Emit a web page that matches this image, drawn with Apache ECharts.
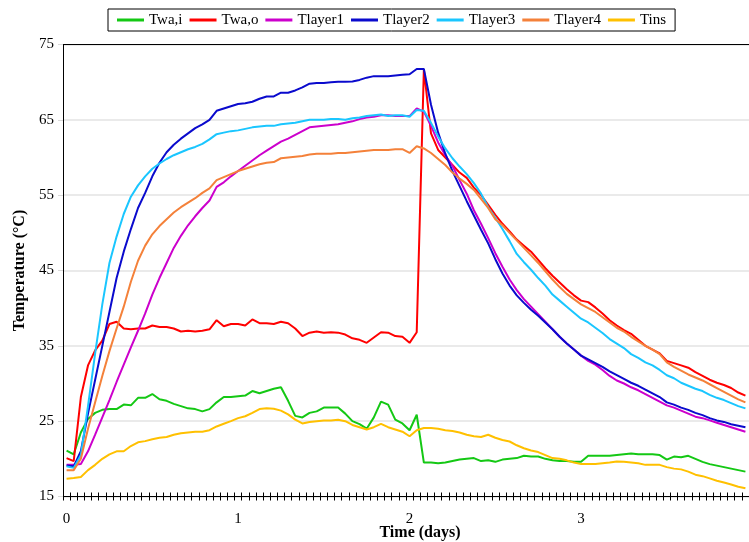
<!DOCTYPE html>
<html>
<head>
<meta charset="utf-8">
<script src="https://cdn.jsdelivr.net/npm/echarts@6/dist/echarts.min.js"></script>
<style>
html,body{margin:0;padding:0;background:#fff;}
#c{width:749px;height:542px;}
</style>
</head>
<body>
<div id="c"></div>
<script>
// Hourly samples, hour 0 .. 95 (category axis)
var hours = [];
for (var i = 0; i < 96; i++) hours.push(i);
var dayTicks = ['0', '1', '2', '3'];

var seriesNames = ['Twa,i', 'Twa,o', 'Tlayer1', 'Tlayer2', 'Tlayer3', 'Tlayer4', 'Tins'];

var twai = [21.1,20.6,23.5,25.3,26.1,26.5,26.6,26.6,27.2,27.1,
 28.1,28.1,28.6,27.9,27.7,27.3,27.0,26.7,26.6,26.3,
 26.6,27.5,28.2,28.2,28.3,28.4,29.0,28.7,29.0,29.3,
 29.5,27.7,25.7,25.5,26.1,26.3,26.8,26.8,26.8,26.0,
 25.0,24.6,24.0,25.5,27.6,27.2,25.2,24.7,23.8,25.85,
 19.5,19.5,19.4,19.5,19.7,19.9,20.0,20.1,19.7,19.8,
 19.6,19.9,20.0,20.1,20.4,20.3,20.3,20.0,19.8,19.7,
 19.7,19.6,19.6,20.4,20.4,20.4,20.4,20.5,20.6,20.7,
 20.6,20.6,20.6,20.5,19.9,20.3,20.2,20.4,20.0,19.6,
 19.3,19.1,18.9,18.7,18.5,18.3];

var twao = [20.1,19.7,28.2,32.4,34.4,35.7,37.9,38.2,37.3,37.2,
 37.3,37.3,37.7,37.5,37.5,37.3,36.9,37.0,36.9,37.0,
 37.2,38.4,37.6,37.9,37.9,37.7,38.5,38.0,38.0,37.9,
 38.2,38.0,37.3,36.3,36.75,36.9,36.75,36.8,36.75,36.5,
 36.0,35.8,35.4,36.1,36.8,36.75,36.3,36.2,35.4,36.8,
 71.7,63.2,61.0,60.0,59.0,58.0,57.3,56.0,55.0,53.7,
 52.4,51.2,50.2,49.1,48.3,47.5,46.4,45.3,44.3,43.4,
 42.5,41.7,41.0,40.8,40.1,39.3,38.4,37.7,37.1,36.6,
 35.8,35.0,34.5,34.0,33.0,32.7,32.4,32.1,31.5,31.0,
 30.5,30.1,29.8,29.4,28.8,28.4];

var tlayer1 = [19.2,19.2,19.3,21.0,23.2,25.5,27.8,30.2,32.5,34.8,
 37.0,39.3,41.8,44.0,46.0,48.0,49.6,51.0,52.2,53.3,
 54.3,56.1,56.7,57.5,58.2,58.9,59.6,60.3,60.9,61.5,
 62.1,62.5,63.0,63.5,64.0,64.1,64.2,64.3,64.4,64.6,
 64.8,65.1,65.3,65.4,65.6,65.6,65.5,65.5,65.5,66.5,
 66.1,64.2,62.0,60.3,58.9,57.0,55.2,53.0,51.2,49.3,
 47.3,45.5,43.8,42.4,41.2,40.2,39.2,38.2,37.2,36.2,
 35.3,34.5,33.7,33.0,32.5,31.8,31.0,30.4,30.0,29.5,
 29.1,28.6,28.1,27.6,27.1,26.8,26.4,26.0,25.6,25.4,
 25.1,24.8,24.5,24.2,23.9,23.6];

var tlayer2 = [19.1,19.0,21.0,26.0,30.5,35.0,39.5,44.0,47.5,50.5,
 53.3,55.3,57.5,59.3,60.7,61.7,62.5,63.2,63.9,64.4,
 65.0,66.2,66.5,66.8,67.1,67.2,67.4,67.8,68.1,68.1,
 68.6,68.6,68.9,69.3,69.8,69.9,69.9,70.0,70.05,70.05,
 70.1,70.3,70.6,70.8,70.8,70.8,70.9,71.0,71.05,71.75,
 71.75,67.0,63.3,60.5,58.2,56.2,54.2,52.3,50.4,48.6,
 46.5,44.6,43.0,41.7,40.7,39.8,39.0,38.1,37.2,36.2,
 35.3,34.5,33.7,33.2,32.7,32.2,31.6,31.1,30.6,30.1,
 29.7,29.2,28.7,28.2,27.5,27.2,26.8,26.5,26.1,25.8,
 25.4,25.1,24.9,24.6,24.4,24.2];

var tlayer3 = [19.0,18.8,20.5,27.0,34.0,40.5,46.0,49.5,52.5,54.8,
 56.3,57.5,58.5,59.2,59.8,60.3,60.7,61.1,61.4,61.8,
 62.4,63.1,63.3,63.5,63.6,63.8,64.0,64.1,64.2,64.2,
 64.4,64.5,64.6,64.8,65.0,65.0,65.0,65.1,65.1,65.0,
 65.2,65.3,65.5,65.6,65.7,65.5,65.6,65.6,65.4,66.3,
 66.2,64.6,62.8,61.2,59.9,58.8,57.8,56.6,55.2,53.4,
 52.0,50.5,48.9,47.2,46.1,45.1,44.0,43.0,41.8,41.0,
 40.2,39.4,38.6,38.1,37.4,36.7,35.9,35.3,34.7,33.9,
 33.4,32.8,32.4,31.8,31.1,30.7,30.1,29.7,29.3,29.0,
 28.5,28.1,27.8,27.4,27.0,26.7];

var tlayer4 = [18.5,18.5,20.0,24.0,27.5,31.0,34.3,37.3,40.2,43.5,
 46.3,48.3,49.8,50.9,51.8,52.7,53.4,54.0,54.6,55.3,
 55.9,57.0,57.4,57.8,58.2,58.5,58.8,59.1,59.3,59.4,
 59.9,60.0,60.1,60.2,60.4,60.5,60.5,60.5,60.6,60.6,
 60.7,60.8,60.9,61.0,61.0,61.0,61.1,61.1,60.6,61.5,
 61.2,60.6,59.8,59.0,58.0,57.2,56.5,55.7,54.5,53.3,
 51.8,51.0,50.0,49.0,48.0,47.0,46.0,44.9,43.8,42.8,
 41.9,41.2,40.5,40.0,39.5,38.8,38.1,37.4,36.9,36.2,
 35.6,35.0,34.5,33.9,32.8,32.2,31.7,31.2,30.8,30.4,
 29.9,29.4,28.9,28.4,27.9,27.5];

var tins = [17.35,17.45,17.6,18.5,19.2,20.0,20.6,21.0,21.0,21.7,
 22.2,22.35,22.6,22.8,22.9,23.2,23.4,23.5,23.6,23.6,
 23.8,24.3,24.65,25.0,25.4,25.65,26.1,26.6,26.7,26.65,
 26.4,25.9,25.2,24.7,24.9,25.0,25.1,25.1,25.2,25.0,
 24.5,24.2,23.9,24.2,24.65,24.2,23.9,23.6,23.0,23.8,
 24.1,24.1,24.0,23.8,23.7,23.5,23.2,23.0,22.9,23.2,
 22.8,22.5,22.3,21.8,21.4,21.1,20.9,20.5,20.1,20.0,
 19.8,19.5,19.3,19.3,19.3,19.4,19.5,19.65,19.6,19.5,
 19.4,19.2,19.2,19.2,18.9,18.7,18.6,18.3,17.9,17.7,
 17.4,17.1,16.85,16.6,16.3,16.1];

var seriesData = [twai, twao, tlayer1, tlayer2, tlayer3, tlayer4, tins];
var colors = ['#14C814', '#FF0000', '#CC00CC', '#0A0ACD', '#1AC6FF', '#F4813A', '#FFC000'];

var FONT = '"Liberation Serif", "Times New Roman", serif';

var chart = echarts.init(document.getElementById('c'), null, {renderer: 'canvas'});

var series = seriesNames.map(function (n, k) {
  return {
    name: n, type: 'line', data: seriesData[k], xAxisIndex: 0, yAxisIndex: 0,
    symbol: 'none', smooth: false,
    lineStyle: {width: 2, color: colors[k]},
    itemStyle: {color: colors[k]}
  };
});

chart.setOption({
  animation: false,
  backgroundColor: '#fff',
  color: colors,
  legend: {
    data: seriesNames, left: 108, top: 9,
    padding: [3, 9, 3, 9], itemGap: 7, itemWidth: 27, itemHeight: 3,
    icon: 'rect', borderColor: '#000', borderWidth: 1,
    textStyle: {fontFamily: FONT, fontSize: 15, color: '#000', lineHeight: 16}
  },
  grid: {left: 63, top: 44.5, width: 695, bottom: 45.5, containLabel: false},
  xAxis: [
    {
      type: 'category', data: hours, boundaryGap: true, position: 'bottom',
      axisLine: {show: true, lineStyle: {color: '#000', width: 1}},
      axisTick: {show: true, interval: 0, length: 4, lineStyle: {color: '#000', width: 1}},
      axisLabel: {
        interval: function (idx) { return idx % 24 === 0; },
        formatter: function (v) { return dayTicks[Math.round(v / 24)]; },
        fontFamily: FONT, fontSize: 15, color: '#000', margin: 15
      },
      splitLine: {show: false}
    },
    {
      type: 'category', data: hours, boundaryGap: true, position: 'bottom',
      axisLine: {show: false},
      axisTick: {show: true, inside: true, interval: 0, length: 4, lineStyle: {color: '#000', width: 1}},
      axisLabel: {show: false}, splitLine: {show: false}
    },
    {
      type: 'category', data: hours, boundaryGap: true, position: 'top',
      axisLine: {show: true, lineStyle: {color: '#000', width: 1}},
      axisTick: {show: false}, axisLabel: {show: false}, splitLine: {show: false}
    }
  ],
  yAxis: {
    type: 'value', min: 15, max: 75, interval: 10,
    name: 'Temperature (°C)', nameLocation: 'middle', nameGap: 33,
    nameTextStyle: {fontFamily: FONT, fontSize: 16, fontWeight: 'bold', color: '#000'},
    axisLine: {show: true, lineStyle: {color: '#000', width: 1}},
    axisTick: {show: true, length: 5, lineStyle: {color: '#d9d9d9', width: 1}},
    axisLabel: {fontFamily: FONT, fontSize: 15, color: '#000', margin: 9},
    splitLine: {show: true, lineStyle: {color: '#e3e3e3', width: 1.5}}
  },
  graphic: [{
    type: 'text', x: 420, y: 533,
    style: {text: 'Time (days)', fontFamily: FONT, fontSize: 16, fontWeight: 'bold',
      fill: '#000', textAlign: 'center', textVerticalAlign: 'middle'}
  }],
  series: series
});
</script>
</body>
</html>
